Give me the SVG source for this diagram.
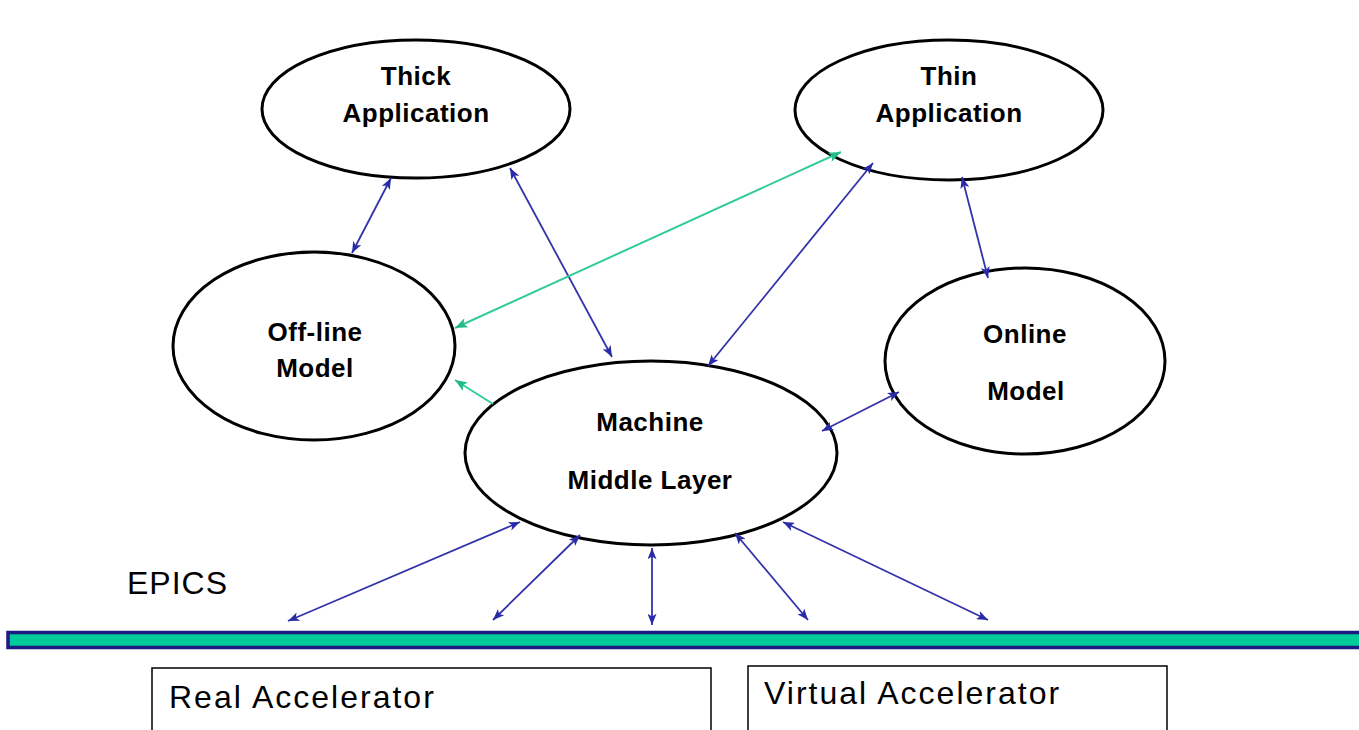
<svg xmlns="http://www.w3.org/2000/svg" width="1359" height="730" viewBox="0 0 1359 730">
  <style>
    .node ellipse { fill: #ffffff; stroke: #000000; stroke-width: 3; }
    .label { font-family: "Liberation Sans", Arial, sans-serif; font-weight: bold; font-size: 26px; fill: #000000; text-anchor: middle; letter-spacing: 0.5px; }
    .plain { font-family: "Liberation Sans", Arial, sans-serif; font-size: 32px; fill: #000000; letter-spacing: 2px; }
    .blue { stroke: #3333aa; stroke-width: 1.8; fill: none; marker-start: url(#headBlue); marker-end: url(#headBlue); }
    .green { stroke: #33cc99; stroke-width: 2; fill: none; marker-end: url(#headGreen); }
    .green.both { marker-start: url(#headGreen); }
    .box { fill: #ffffff; stroke: #000000; stroke-width: 1.5; }
  </style>
  <defs>
    <marker id="headBlue" viewBox="0 0 10 8" refX="10" refY="4" markerWidth="13" markerHeight="9" markerUnits="userSpaceOnUse" orient="auto-start-reverse">
      <path d="M0,0 L10,4 L0,8 L2.5,4 Z" fill="#2a2aa8"/>
    </marker>
    <marker id="headGreen" viewBox="0 0 10 8" refX="10" refY="4" markerWidth="14" markerHeight="10" markerUnits="userSpaceOnUse" orient="auto-start-reverse">
      <path d="M0,0 L10,4 L0,8 L2.5,4 Z" fill="#22bb88"/>
    </marker>
  </defs>

  <rect width="1359" height="730" fill="#ffffff"/>

  <!-- nodes -->
  <g id="thick-application" class="node">
    <ellipse cx="416" cy="109" rx="154" ry="69"/>
    <text class="label" x="416" y="85">Thick</text>
    <text class="label" x="416" y="122">Application</text>
  </g>
  <g id="thin-application" class="node">
    <ellipse cx="949" cy="110" rx="154" ry="70"/>
    <text class="label" x="949" y="85">Thin</text>
    <text class="label" x="949" y="122">Application</text>
  </g>
  <g id="offline-model" class="node">
    <ellipse cx="314" cy="346" rx="141" ry="94"/>
    <text class="label" x="315" y="341">Off-line</text>
    <text class="label" x="315" y="377">Model</text>
  </g>
  <g id="online-model" class="node">
    <ellipse cx="1025" cy="361" rx="140" ry="93"/>
    <text class="label" x="1025" y="343">Online</text>
    <text class="label" x="1026" y="400">Model</text>
  </g>
  <g id="machine-middle-layer" class="node">
    <ellipse cx="651" cy="453" rx="186" ry="92"/>
    <text class="label" x="650" y="431">Machine</text>
    <text class="label" x="650" y="489">Middle Layer</text>
  </g>

  <!-- connectors, drawn over the node outlines so the heads stay visible -->
  <g id="connectors">
    <line class="blue" x1="391" y1="178" x2="352" y2="253"/>
    <line class="blue" x1="510" y1="168" x2="612" y2="357"/>
    <line class="blue" x1="873" y1="163" x2="708" y2="366"/>
    <line class="blue" x1="962" y1="177" x2="988" y2="278"/>
    <line class="blue" x1="899" y1="392" x2="822" y2="431"/>
    <line class="green both" x1="841" y1="152" x2="455" y2="328"/>
    <line class="green" x1="493" y1="404" x2="455" y2="380"/>
    <line class="blue" x1="520" y1="522" x2="288" y2="621"/>
    <line class="blue" x1="580" y1="535" x2="493" y2="620"/>
    <line class="blue" x1="652" y1="548" x2="652" y2="625"/>
    <line class="blue" x1="735" y1="533" x2="808" y2="620"/>
    <line class="blue" x1="783" y1="522" x2="988" y2="620"/>
  </g>

  <!-- EPICS bus -->
  <g id="epics">
    <text class="plain" x="127" y="594" style="letter-spacing:1px">EPICS</text>
    <rect x="8" y="632.5" width="1360" height="15" fill="#00cc99" stroke="#1a1a80" stroke-width="3.5"/>
  </g>

  <!-- accelerators -->
  <g id="real-accelerator">
    <rect class="box" x="152" y="668" width="559" height="80"/>
    <text class="plain" x="169" y="708">Real Accelerator</text>
  </g>
  <g id="virtual-accelerator">
    <rect class="box" x="748" y="666" width="419" height="80"/>
    <text class="plain" x="764" y="704">Virtual Accelerator</text>
  </g>
</svg>
